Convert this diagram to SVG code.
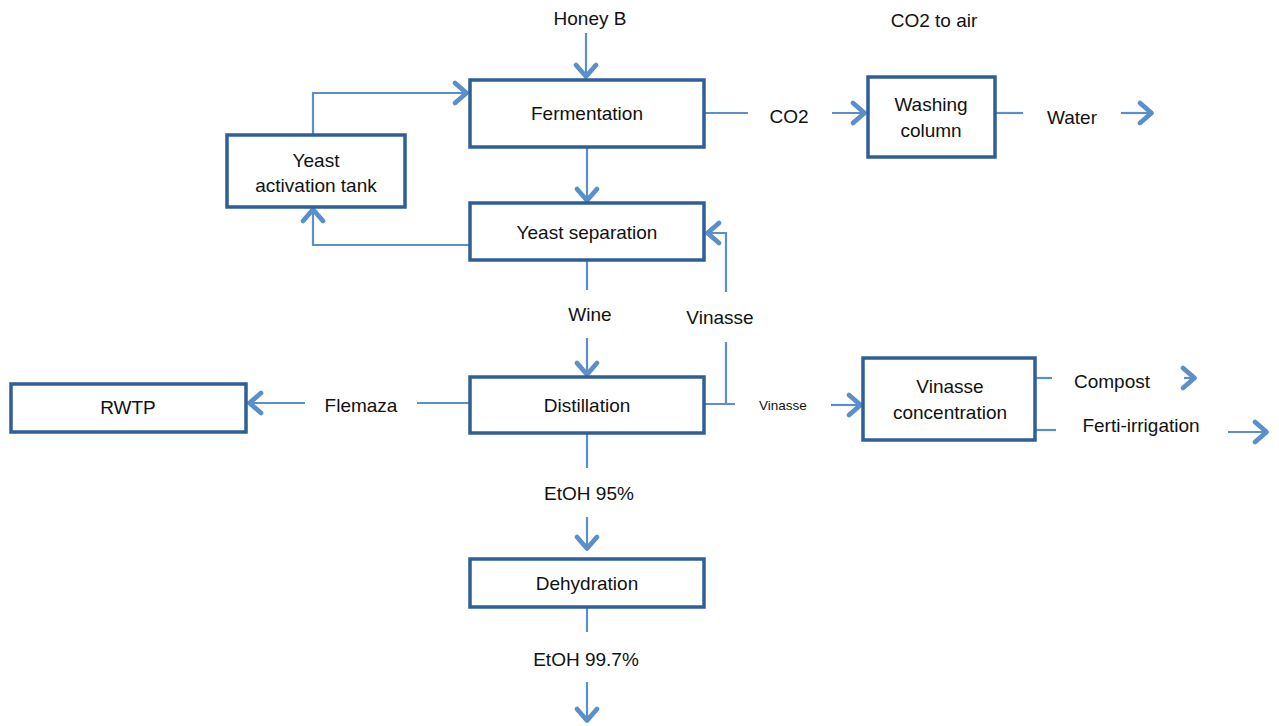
<svg xmlns="http://www.w3.org/2000/svg" width="1279" height="726" viewBox="0 0 1279 726">
  <style>
    .box { fill: #ffffff; stroke: #2f5f96; stroke-width: 3.5; }
    .lbl { font-family: "Liberation Sans", Arial, sans-serif; font-size: 19px; fill: #111111; text-anchor: middle; }
    .small { font-size: 13.5px; }
    .flow { fill: none; stroke: #5b8fca; stroke-width: 2.2; }
    .arr { marker-end: url(#head); }
  </style>
  <defs>
    <marker id="head" markerUnits="userSpaceOnUse" markerWidth="30" markerHeight="30" viewBox="-15 -15 30 30" refX="0" refY="0" orient="auto" overflow="visible">
      <path d="M-13,-10 L-1.5,0 L-13,10" fill="none" stroke="#5b8fca" stroke-width="4.8" stroke-linecap="round" stroke-linejoin="round"/>
    </marker>
  </defs>

  <rect width="1279" height="726" fill="#ffffff"/>

  <!-- stream connectors -->
  <g id="connectors">
    <!-- feed into fermentation -->
    <line class="flow arr" x1="586" y1="33" x2="586" y2="78"/>
    <!-- yeast recycle loop -->
    <path class="flow arr" d="M313,135 V93 H468"/>
    <line class="flow arr" x1="587" y1="148" x2="587" y2="202"/>
    <path class="flow arr" d="M470,245 H313 V208"/>
    <!-- CO2 off-gas to washing -->
    <line class="flow" x1="705" y1="113" x2="748" y2="113"/>
    <line class="flow arr" x1="832" y1="113" x2="866" y2="113"/>
    <line class="flow" x1="995" y1="113" x2="1023" y2="113"/>
    <line class="flow arr" x1="1121" y1="113" x2="1153" y2="113"/>
    <!-- wine to distillation -->
    <line class="flow" x1="587" y1="261" x2="587" y2="290"/>
    <line class="flow arr" x1="587" y1="338" x2="587" y2="376"/>
    <!-- vinasse recycle to yeast separation -->
    <path class="flow" d="M704,404 H735 M726,404 V342"/>
    <path class="flow arr" d="M726,292 V233 H706"/>
    <!-- vinasse to concentration -->
    <line class="flow arr" x1="831" y1="405" x2="862" y2="405"/>
    <line class="flow" x1="1036" y1="378" x2="1052" y2="378"/>
    <line class="flow arr" x1="1184" y1="378" x2="1196" y2="378"/>
    <line class="flow" x1="1036" y1="430" x2="1056" y2="430"/>
    <line class="flow arr" x1="1228" y1="432" x2="1268" y2="432"/>
    <!-- flemaza to RWTP -->
    <line class="flow" x1="470" y1="403" x2="417" y2="403"/>
    <line class="flow arr" x1="305" y1="403" x2="248" y2="403"/>
    <!-- ethanol line -->
    <line class="flow" x1="587" y1="433" x2="587" y2="468"/>
    <line class="flow arr" x1="587" y1="517" x2="587" y2="550"/>
    <line class="flow" x1="587" y1="607" x2="587" y2="632"/>
    <line class="flow arr" x1="587" y1="682" x2="587" y2="722"/>
  </g>

  <!-- stream labels -->
  <g id="labels">
    <text class="lbl" x="590" y="25">Honey B</text>
    <text class="lbl" x="934" y="27">CO2 to air</text>
    <text class="lbl" x="789" y="123">CO2</text>
    <text class="lbl" x="1072" y="124">Water</text>
    <text class="lbl" x="590" y="321">Wine</text>
    <text class="lbl" x="720" y="324">Vinasse</text>
    <text class="lbl small" x="783" y="410">Vinasse</text>
    <text class="lbl" x="361" y="412">Flemaza</text>
    <text class="lbl" x="1112" y="388">Compost</text>
    <text class="lbl" x="1141" y="432">Ferti-irrigation</text>
    <text class="lbl" x="589" y="500">EtOH 95%</text>
    <text class="lbl" x="586" y="666">EtOH 99.7%</text>
  </g>

  <g id="fermentation">
    <rect class="box" x="470" y="80" width="234" height="67"/>
    <text class="lbl" x="587" y="120">Fermentation</text>
  </g>

  <g id="yeast-activation-tank">
    <rect class="box" x="227" y="135" width="178" height="72"/>
    <text class="lbl" x="316" y="167">Yeast</text>
    <text class="lbl" x="316" y="192">activation tank</text>
  </g>

  <g id="yeast-separation">
    <rect class="box" x="470" y="203" width="234" height="57"/>
    <text class="lbl" x="587" y="239">Yeast separation</text>
  </g>

  <g id="washing-column">
    <rect class="box" x="868" y="77" width="127" height="80"/>
    <text class="lbl" x="931" y="111">Washing</text>
    <text class="lbl" x="931" y="137">column</text>
  </g>

  <g id="distillation">
    <rect class="box" x="470" y="377" width="234" height="56"/>
    <text class="lbl" x="587" y="412">Distillation</text>
  </g>

  <g id="vinasse-concentration">
    <rect class="box" x="863" y="358" width="172" height="82"/>
    <text class="lbl" x="950" y="393">Vinasse</text>
    <text class="lbl" x="950" y="419">concentration</text>
  </g>

  <g id="rwtp">
    <rect class="box" x="11" y="384" width="235" height="48"/>
    <text class="lbl" x="128" y="414">RWTP</text>
  </g>

  <g id="dehydration">
    <rect class="box" x="470" y="559" width="234" height="48"/>
    <text class="lbl" x="587" y="590">Dehydration</text>
  </g>
</svg>
